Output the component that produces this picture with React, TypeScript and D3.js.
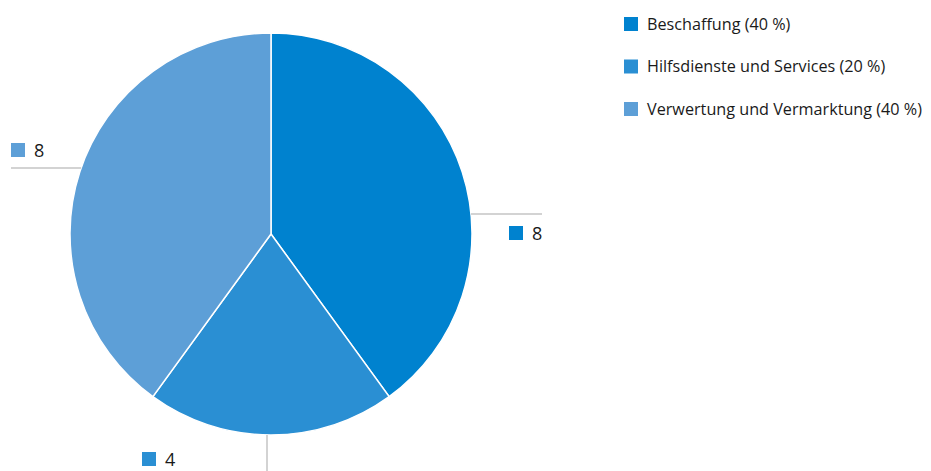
import React from "react";
import * as d3 from "d3";

const categories = ["Beschaffung", "Hilfsdienste und Services", "Verwertung und Vermarktung"];
const values = [8, 4, 8];
const percents = ["40 %", "20 %", "40 %"];
const colors = ["#0082cf", "#2a8fd3", "#5d9fd7"];

export default function App() {
  const width = 931, height = 471;
  const cx = 271, cy = 234, r = 201;
  const pie = d3.pie<number>().sort(null).value((d) => d)(values);
  const arc = d3.arc<d3.PieArcDatum<number>>().innerRadius(0).outerRadius(r);

  const edgeX = (y: number, side: number) => cx + side * Math.sqrt(r * r - (y - cy) * (y - cy));
  const labels = [
    { line: [edgeX(214, 1), 214, 542, 214], sq: [509, 226], tx: 532, ty: 240 },
    { line: [267, cy + Math.sqrt(r * r - 16), 267, 471], sq: [142, 452], tx: 165, ty: 465.5 },
    { line: [11, 168, edgeX(168, -1), 168], sq: [11, 143], tx: 34, ty: 157 },
  ];
  const font = "'Open Sans', 'Noto Sans', sans-serif";

  return (
    <svg width={width} height={height} style={{ position: "absolute", left: 0, top: 0 }}>
      <g transform={`translate(${cx},${cy})`}>
        {pie.map((p, i) => (
          <path key={i} d={arc(p) || ""} fill={colors[i]} stroke="#fff" strokeWidth={1.5} />
        ))}
      </g>
      {labels.map((l, i) => (
        <g key={i}>
          <line x1={l.line[0]} y1={l.line[1]} x2={l.line[2]} y2={l.line[3]} stroke="#c4c4c4" strokeWidth={1.5} />
          <rect x={l.sq[0]} y={l.sq[1]} width={14} height={14} fill={colors[i]} />
          <text x={l.tx} y={l.ty} fontFamily={font} fontSize={18} fill="#1a1a1a">{values[i]}</text>
        </g>
      ))}
      {categories.map((c, i) => (
        <g key={c} transform={`translate(624,${17 + i * 42.5})`}>
          <rect width={14} height={14} fill={colors[i]} />
          <text x={23} y={12.5} fontFamily={font} fontSize={16.2} fill="#1a1a1a">{`${c} (${percents[i]})`}</text>
        </g>
      ))}
    </svg>
  );
}
